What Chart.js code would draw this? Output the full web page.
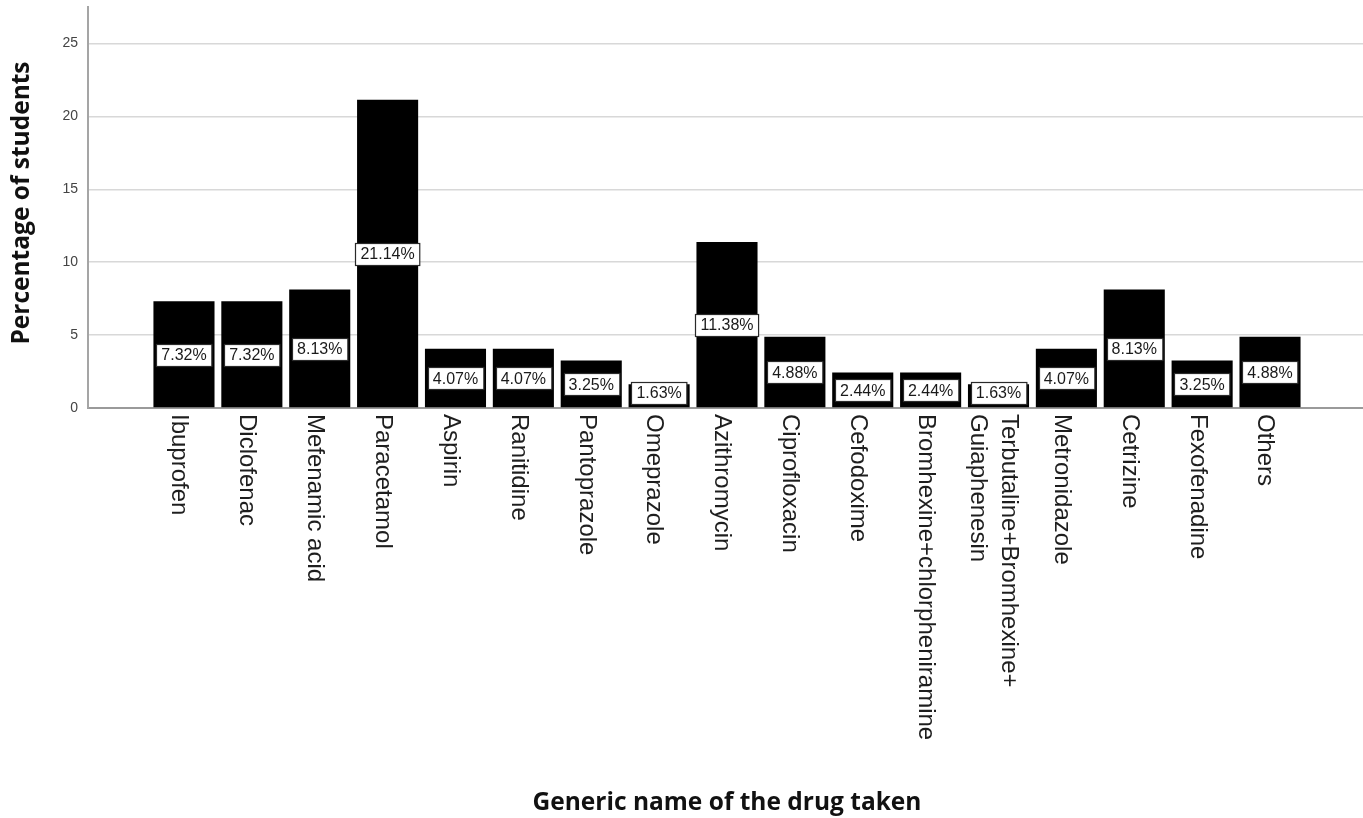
<!DOCTYPE html>
<html>
<head>
<meta charset="utf-8">
<title>Generic name of the drug taken</title>
<script src="https://cdn.jsdelivr.net/npm/chart.js@4/dist/chart.umd.min.js"></script>
<style>
  html, body { margin: 0; padding: 0; background: #ffffff; }
  #wrap { width: 1363px; height: 818px; position: relative; }
</style>
</head>
<body>
<div id="wrap"><canvas id="chart" width="1363" height="818"></canvas></div>
<script>
// Drug names (multi-line names are given as arrays of lines)
const categories = [
  'Ibuprofen', 'Diclofenac', 'Mefenamic acid', 'Paracetamol', 'Aspirin',
  'Ranitidine', 'Pantoprazole', 'Omeprazole', 'Azithromycin', 'Ciprofloxacin',
  'Cefodoxime', 'Bromhexine+chlorpheniramine',
  ['Terbutaline+Bromhexine+', 'Guiaphenesin'],
  'Metronidazole', 'Cetrizine', 'Fexofenadine', 'Others'
];

// Percentage of students per drug
const percentages = [
  7.32, 7.32, 8.13, 21.14, 4.07, 4.07, 3.25, 1.63, 11.38, 4.88,
  2.44, 2.44, 1.63, 4.07, 8.13, 3.25, 4.88
];

// Y axis tick values
const yTicks = [0, 5, 10, 15, 20, 25];

const yTitle = 'Percentage of students';
const xTitle = 'Generic name of the drug taken';

const LABEL_FONT = '24px "Liberation Sans", Arial, sans-serif';
const VALUE_FONT = '16px "Liberation Sans", Arial, sans-serif';
const TITLE_FONT = 'bold 24.5px "Open Sans", "Liberation Sans", sans-serif';

// Boxed percentage labels in the middle of each bar
const valueLabels = {
  id: 'valueLabels',
  afterDatasetsDraw(chart) {
    const ctx = chart.ctx;
    const yScale = chart.scales.y;
    const meta = chart.getDatasetMeta(0);
    const base = yScale.getPixelForValue(0);
    ctx.save();
    ctx.font = VALUE_FONT;
    ctx.textAlign = 'center';
    ctx.textBaseline = 'middle';
    meta.data.forEach((bar, i) => {
      const v = percentages[i];
      const text = v.toFixed(2) + '%';
      const w = ctx.measureText(text).width + 10;
      const h = 22;
      let cy = yScale.getPixelForValue(v / 2);
      cy = Math.min(cy, base - 4 - h / 2);
      const x0 = Math.round(bar.x - w / 2) + 0.5;
      const y0 = Math.round(cy - h / 2) + 0.5;
      ctx.fillStyle = '#ffffff';
      ctx.fillRect(x0, y0, w, h);
      ctx.strokeStyle = '#2a2a2a';
      ctx.lineWidth = 1.2;
      ctx.strokeRect(x0, y0, w, h);
      ctx.fillStyle = '#1a1a1a';
      ctx.fillText(text, bar.x, cy + 1);
    });
    ctx.restore();
  }
};

// Vertical category names, axis titles
const axisText = {
  id: 'axisText',
  afterDraw(chart) {
    const ctx = chart.ctx;
    const xScale = chart.scales.x;
    const area = chart.chartArea;
    ctx.save();
    ctx.fillStyle = '#1e1e1e';
    ctx.font = LABEL_FONT;
    ctx.textAlign = 'left';
    ctx.textBaseline = 'middle';
    const lineGap = 31;
    categories.forEach((name, i) => {
      const lines = Array.isArray(name) ? name : [name];
      const cx = xScale.getPixelForValue(i) - 5;
      lines.forEach((line, k) => {
        const lx = cx + (lines.length - 1) / 2 * lineGap - k * lineGap;
        ctx.save();
        ctx.translate(lx, area.bottom + 6);
        ctx.rotate(Math.PI / 2);
        ctx.fillText(line, 0, 0);
        ctx.restore();
      });
    });

    ctx.fillStyle = '#111111';
    ctx.font = TITLE_FONT;
    ctx.textAlign = 'center';
    ctx.textBaseline = 'middle';
    ctx.fillText(xTitle, 727, 803);

    ctx.save();
    ctx.translate(22, 203);
    ctx.rotate(-Math.PI / 2);
    ctx.fillText(yTitle, 0, 0);
    ctx.restore();
    ctx.restore();
  }
};

new Chart(document.getElementById('chart'), {
  type: 'bar',
  data: {
    datasets: [{
      data: percentages.map((v, i) => ({ x: i, y: v })),
      backgroundColor: '#000000',
      borderWidth: 0,
      barPercentage: 0.9,
      categoryPercentage: 1.0
    }]
  },
  options: {
    responsive: false,
    animation: false,
    layout: { padding: { top: 7, right: 0, bottom: 0, left: 0 } },
    plugins: {
      legend: { display: false },
      tooltip: { enabled: false }
    },
    scales: {
      x: {
        type: 'linear',
        offset: false,
        min: -1.414,
        max: 17.37,
        grid: { display: false, offset: false },
        border: { color: '#9a9a9a', width: 2 },
        ticks: { display: false },
        afterFit(scale) {
          scale.height = 410;
          scale.paddingLeft = 0;
          scale.paddingRight = 0;
        }
      },
      y: {
        min: 0,
        max: 27.5,
        afterBuildTicks(scale) { scale.ticks = yTicks.map(v => ({ value: v })); },
        ticks: {
          color: '#444444',
          font: { family: '"Liberation Sans", Arial, sans-serif', size: 14 },
          padding: 10
        },
        grid: { color: '#d8d8d8', lineWidth: 1.5, drawTicks: false },
        border: { color: '#a5a5a5', width: 2 },
        afterFit(scale) {
          scale.width = 88;
          scale.paddingTop = 0;
          scale.paddingBottom = 0;
        }
      }
    }
  },
  plugins: [valueLabels, axisText]
});
</script>
</body>
</html>
